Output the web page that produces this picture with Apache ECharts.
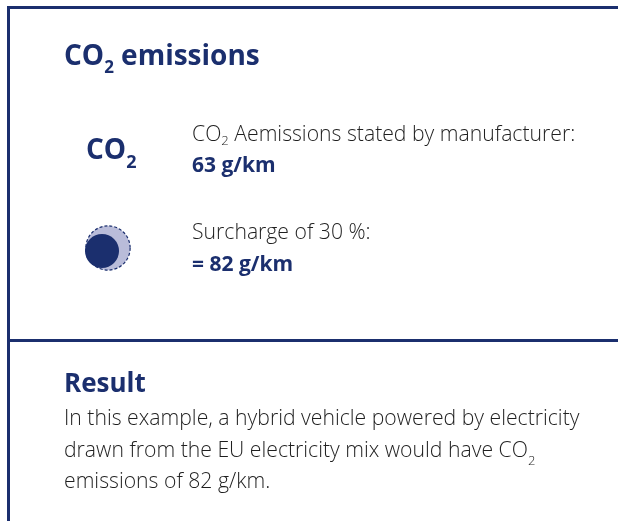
<!DOCTYPE html>
<html>
<head>
<meta charset="utf-8">
<script src="https://cdn.jsdelivr.net/npm/echarts@6/dist/echarts.min.js"></script>
<style>
  html, body { margin: 0; padding: 0; background: #fff; }
  #chart { width: 618px; height: 521px; }
</style>
</head>
<body>
<div id="chart"></div>
<script>
// values shown in the panel
const stages = ['manufacturer', 'surcharge'];
const emissions = [63, 82];        // g/km
const surchargePct = [30];         // %
const resultLines = [
  ['In this example, a hybrid vehicle powered by electricity', false],
  ['drawn from the EU electricity mix would have CO', true],
  ['emissions of ' + emissions[1] + ' g/km.', false]
];

const navy = '#1b2f6e';
const ink = '#1f1f1f';
const font = 'Open Sans';

const chart = echarts.init(document.getElementById('chart'));

// text with a lowered "2" in a smaller size
function withSub(size, weight, color, subSize, drop, lh) {
  return {
    t: { fontSize: size, fontWeight: weight, fill: color, fontFamily: font, verticalAlign: 'bottom', lineHeight: lh },
    s: { fontSize: subSize, fontWeight: weight, fill: color, fontFamily: font, verticalAlign: 'bottom', lineHeight: lh, padding: [0, 0, -drop, 0] }
  };
}

function txt(x, y, text, size, weight, color, rich) {
  return {
    type: 'text', left: x, top: y,
    style: {
      text: text, fontSize: size, fontWeight: weight, fill: color, fontFamily: font,
      rich: rich
    }
  };
}

const bodySize = 21.2;

const graphics = [
  // frame lines
  { type: 'rect', shape: { x: 7, y: 6, width: 611, height: 3 }, style: { fill: navy } },
  { type: 'rect', shape: { x: 7, y: 6, width: 3, height: 515 }, style: { fill: navy } },
  { type: 'rect', shape: { x: 7, y: 339, width: 611, height: 3 }, style: { fill: navy } },

  txt(64, 43, '{t|CO}{s|2}{t| emissions}', 28, 'bold', navy, withSub(28, 'bold', navy, 17, 6)),
  txt(86, 137, '{t|CO}{s|2}', 28, 'bold', navy, withSub(28, 'bold', navy, 18, 7)),
  txt(192, 124, '{t|CO}{s|2}{t| Aemissions stated by manufacturer:}', bodySize, 300, ink,
      withSub(bodySize, 300, ink, 13, 3)),
  txt(192, 156, emissions[0] + ' g/km', 21, 'bold', navy),
  txt(192, 222, 'Surcharge of ' + surchargePct[0] + ' %:', bodySize, 300, ink),
  txt(192, 255, '= ' + emissions[1] + ' g/km', 21, 'bold', navy),

  txt(64, 372, 'Result', 26, 'bold', navy),
  {
    type: 'text', left: 64, top: 398,
    style: {
      text: resultLines.map(([l, s]) => '{t|' + l + '}' + (s ? '{s|2}' : '')).join('\n'),
      fontSize: bodySize, fill: ink, fontFamily: font, lineHeight: 31.5,
      rich: withSub(bodySize, 300, ink, 13, 7, 31.5)
    }
  }
];

chart.setOption({
  animation: false,
  grid: { left: 80, top: 220, width: 60, height: 60 },
  xAxis: { type: 'value', min: 0, max: 60, show: false },
  yAxis: { type: 'value', min: 0, max: 60, show: false },
  graphic: graphics,
  series: [
    {
      // surcharged value: outer dashed disc
      name: stages[1], type: 'scatter', silent: true,
      data: [[28, 32, emissions[1]]],
      symbolSize: d => d[2] * 0.54,
      itemStyle: { color: '#b9bcd9', borderColor: navy, borderWidth: 1.2, borderType: [3, 2], opacity: 1 },
      z: 2
    },
    {
      // declared value: inner solid disc
      name: stages[0], type: 'scatter', silent: true,
      data: [[28, 32, emissions[0]]],
      symbolSize: d => d[2] * 0.54,
      symbolOffset: [-6, 3],
      itemStyle: { color: navy, opacity: 1 },
      z: 3
    }
  ]
});
</script>
</body>
</html>
